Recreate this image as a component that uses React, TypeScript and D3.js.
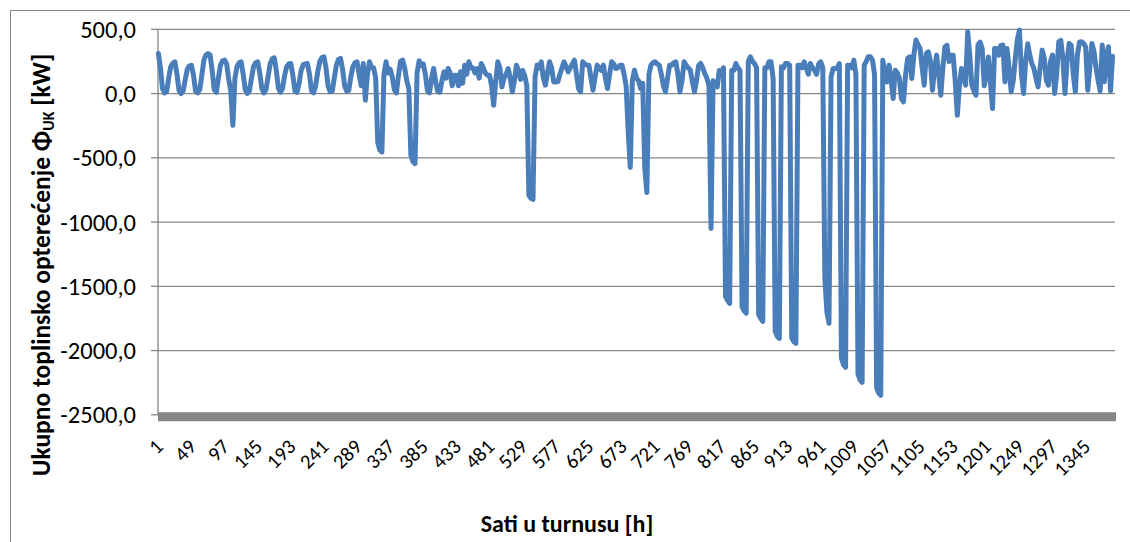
import React from 'react';
import * as d3 from 'd3';

const TOTAL_HOURS = 1387;
const SAMPLE_STEP = 3; // hours between stored samples (first sample = hour 1)

const xTickLabels = [1, 49, 97, 145, 193, 241, 289, 337, 385, 433, 481, 529, 577, 625, 673, 721, 769, 817, 865, 913, 961, 1009, 1057, 1105, 1153, 1201, 1249, 1297, 1345];
const yTicks = [500, 0, -500, -1000, -1500, -2000, -2500];

// Ukupno toplinsko opterećenje [kW], one value every 3 hours
const loadPart1 = [
  312, 200, 40, 5, 15, 120, 210, 235,
  247, 150, 25, 0, 20, 110, 190, 215,
  220, 140, 20, 5, 30, 140, 260, 300,
  312, 300, 180, 30, 10, 120, 220, 255,
  260, 230, 110, 20, -247, 120, 210, 240,
  247, 150, 30, 0, 20, 120, 210, 240,
  247, 160, 40, 5, 30, 130, 230, 270,
  278, 180, 40, 10, 40, 140, 210, 230,
  234, 140, 20, 10, 80, 180, 225, 230,
  234, 150, 20, 5, 60, 170, 250, 280,
  286, 200, 60, 15, 20, 120, 220, 265,
  273, 190, 60, 20, 25, 130, 210, 240,
  247, 150, 60, 234, -52, 150, 247, 200,
  200, 120, -380, -440, -455, 150, 247, 160,
  190, 130, 30, 5, 140, 250, 260, 200,
];
const loadPart2 = [
  100, 40, -480, -530, -545, 160, 255, 220,
  230, 150, 20, 5, 120, 195, 90, 15,
  10, 100, 169, 120, 195, 160, 60, 143,
  143, 60, 170, 80, 221, 150, 247, 200,
  200, 160, 195, 120, 234, 200, 160, 143,
  143, 60, -91, 100, 247, 200, 52, 120,
  150, 195, 120, 13, 100, 221, 180, 110,
  180, 140, 60, -790, -815, -824, 130, 221,
  200, 247, 120, 65, 160, 247, 200, 90,
  90, 91, 150, 200, 247, 210, 169, 200,
  230, 260, 150, 40, 13, 247, 230, 221,
  221, 120, 26, 130, 221, 200, 180, 221,
  120, 39, 150, 247, 230, 195, 200, 221,
  221, 150, 60, -300, -575, 100, 182, 120,
  100, 39, 80, -580, -770, 150, 221, 240,
];
const loadPart3 = [
  247, 230, 221, 150, 60, 13, 120, 221,
  221, 240, 247, 150, 13, 100, 247, 220,
  200, 182, 90, 13, 100, 220, 234, 200,
  156, 120, 60, -1050, 100, 60, 52, 180,
  150, 200, -1580, -1610, -1633, 180, 180, 234,
  200, 180, -1660, -1690, -1710, 250, 286, 250,
  234, 200, -1720, -1750, -1773, 200, 200, 247,
  247, 117, -1850, -1890, -1905, 208, 200, 234,
  234, 221, -1900, -1930, -1944, 221, 221, 200,
  247, 200, 150, 234, 200, 182, 150, 230,
  247, 200, -1440, -1700, -1788, 130, 195, 195,
  195, 234, -2060, -2110, -2130, 221, 221, 200,
  260, 150, -2180, -2230, -2247, 221, 250, 286,
  286, 260, 150, -2290, -2330, -2348, 260, 150,
  91, 221, 100, -39, 182, 160, 120, -40,
];
const loadPart4 = [
  -65, 150, 273, 286, 117, 300, 416, 380,
  351, 200, 65, 312, 325, 250, 26, 200,
  299, 150, -13, 200, 364, 375, 250, 298,
  298, 91, -169, 60, 195, 150, 65, 481,
  300, 65, 20, -13, 380, 401, 351, 60,
  150, 285, 80, -117, 351, 350, 299, 375,
  377, 91, 351, 200, 13, 100, 273, 420,
  494, 150, 0, 250, 388, 299, 233, 195,
  120, 52, 200, 338, 273, 104, 65, 250,
  299, 0, 150, 403, 414, 270, 0, 250,
  390, 377, 150, 13, 300, 401, 403, 390,
  364, 26, 200, 390, 330, 200, 104, 20,
  377, 91, 300, 364, 20, 290,
];

const load = [...loadPart1, ...loadPart2, ...loadPart3, ...loadPart4];

const W = 1130;
const H = 542;
const plot = { left: 158, right: 1115, top: 29.3, bottom: 414.8 };
const FONT = "Carlito, Calibri, 'Open Sans', sans-serif";
const GRID = '#868686';
const BLUE = '#4A7EBB';

const fmt = (v: number) => v.toFixed(1).replace('.', ',');

export default function App() {
  const x = d3.scaleLinear().domain([0.5, TOTAL_HOURS + 0.5]).range([plot.left, plot.right]);
  const y = d3.scaleLinear().domain([-2500, 500]).range([plot.bottom, plot.top]);
  const linePath = d3
    .line<number>()
    .x((_, i) => x(1 + i * SAMPLE_STEP))
    .y((d) => y(d))(load) as string;

  return (
    <svg width={W} height={H} style={{ position: 'absolute', left: 0, top: 0, background: '#fff' }} fontFamily={FONT}>
      <rect x={0} y={0} width={W} height={H} fill="#fff" />
      <rect x={10.5} y={10.5} width={W + 20} height={H + 20} fill="none" stroke={GRID} strokeWidth={1} />
      {yTicks.map((t) => (
        <g key={t}>
          {t !== -2500 && (
            <line x1={plot.left} x2={plot.right} y1={y(t)} y2={y(t)} stroke={GRID} strokeWidth={1.3} />
          )}
          <line x1={plot.left - 7} x2={plot.left} y1={y(t)} y2={y(t)} stroke={GRID} strokeWidth={1.3} />
          <text x={136} y={y(t)} dy="0.35em" textAnchor="end" fontSize={24.5} fill="#000">
            {fmt(t)}
          </text>
        </g>
      ))}
      <line x1={plot.left} x2={plot.left} y1={plot.top} y2={plot.bottom} stroke={GRID} strokeWidth={1.3} />
      <path d={linePath} fill="none" stroke={BLUE} strokeWidth={5} strokeLinejoin="round" strokeLinecap="round" />
      <line x1={plot.left} x2={plot.right + 1} y1={y(-2500) + 2} y2={y(-2500) + 2} stroke={GRID} strokeWidth={9} />
      {xTickLabels.map((h) => (
        <text
          key={h}
          transform={`translate(${x(h) + 6},${448}) rotate(-45)`}
          textAnchor="end"
          fontSize={20.5}
          fill="#000"
        >
          {h}
        </text>
      ))}
      <text x={567} y={532} textAnchor="middle" fontSize={24} fontWeight="bold" fill="#000">
        Sati u turnusu [h]
      </text>
      <text transform="translate(50,265) rotate(-90)" textAnchor="middle" fontSize={25.5} fontWeight="bold" fill="#000">
        Ukupno toplinsko opterećenje Φ
        <tspan fontSize={16} dy={4}>UK</tspan>
        <tspan dy={-4}> [kW]</tspan>
      </text>
    </svg>
  );
}
